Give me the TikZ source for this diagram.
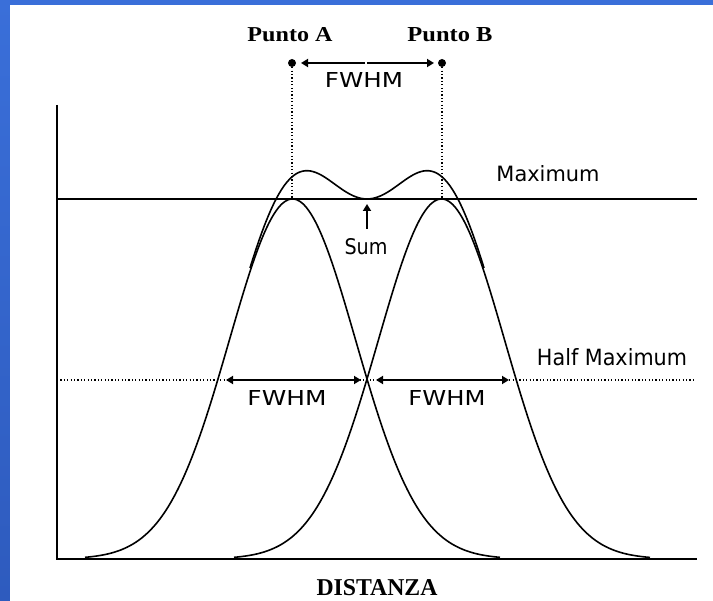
\documentclass[tikz,border=0pt]{standalone}
\usepackage{fontspec}
\setmainfont{Liberation Serif}
\newfontfamily\sansf{DejaVu Sans}
\usepackage{graphicx}
\usetikzlibrary{arrows.meta}
\definecolor{blueT}{HTML}{3A6FD9}
\definecolor{blueB}{HTML}{2E5BBE}
\newcommand{\fitbox}[3]{\resizebox{#1pt}{#2pt}{#3}}
\tikzset{
  axisline/.style={line width=2.2pt},
  curve/.style={line width=1.6pt},
  dotline/.style={line width=1.2pt, dash pattern=on 1.2pt off 2.2pt},
  dimarrow/.style={line width=2pt, -{Triangle[length=7pt,width=8pt]}},
  dimarrows/.style={line width=2pt, {Triangle[length=7pt,width=8pt]}-{Triangle[length=7pt,width=8pt]}},
  lbl/.style={inner sep=0pt, anchor=center},
  pt/.style={circle, fill=black, inner sep=0pt, minimum size=8pt}
}
\begin{document}
\begin{tikzpicture}[x=1pt,y=-1pt]
\useasboundingbox (0,0) rectangle (713,601);
\shade[top color=blueT, bottom color=blueB] (0,0) rectangle (713,601);
\fill[white] (10,5) rectangle (713,601);

% axes
\coordinate (ytop) at (57,105);
\coordinate (O) at (57,559);
\coordinate (xend) at (697,559);
\draw[axisline] (ytop) -- (O) -- (xend);

% maximum line
\coordinate (m0) at (57,199);
\coordinate (m1) at (697,199);
\draw[line width=2.2pt] (m0) -- (m1);

% half maximum dotted line
\coordinate (h0) at (57,380);
\coordinate (h1) at (695,380);
\draw[dotline] (h0) -- (h1);

% gaussians
\draw[curve] plot[domain=85:500, samples=140, smooth] (\x, {559-360*exp(-((\x-292.5)/63.27)^2/2)});
\draw[curve] plot[domain=234:650, samples=140, smooth] (\x, {559-360*exp(-((\x-441.5)/63.27)^2/2)});
% sum
\draw[curve] plot[domain=250:484, samples=90, smooth] (\x, {559-360*(exp(-((\x-292.5)/63.27)^2/2)+exp(-((\x-441.5)/63.27)^2/2))});

% points A and B
\node[pt] (pA) at (292,63) {};
\node[pt] (pB) at (442,63) {};
\coordinate (pkA) at (292,199);
\coordinate (pkB) at (442,199);
\draw[dotline] (pA) -- (pkA);
\draw[dotline] (pB) -- (pkB);
\node[lbl] (lA) at (290,35) {\fitbox{85}{14}{\bfseries Punto A}};
\node[lbl] (lB) at (450,35) {\fitbox{85}{14}{\bfseries Punto B}};

% top FWHM arrow
\coordinate (tmL) at (365,63);
\coordinate (tmR) at (367,63);
\coordinate (tL) at (301,63);
\coordinate (tR) at (434,63);
\draw[dimarrow] (tmL) -- (tL);
\draw[dimarrow] (tmR) -- (tR);
\node[lbl] (fT) at (364,80) {\fitbox{78}{15}{\sansf FWHM}};

% lower FWHM arrows
\coordinate (c1) at (220,380);
\coordinate (c2) at (367,380);
\coordinate (c3) at (515,380);
\draw[dimarrows, shorten <=6pt, shorten >=6pt] (c1) -- (c2);
\draw[dimarrows, shorten <=9pt, shorten >=6pt] (c2) -- (c3);
\node[lbl] (fL) at (287,398) {\fitbox{79}{15}{\sansf FWHM}};
\node[lbl] (fR) at (447,398) {\fitbox{77}{15}{\sansf FWHM}};

% sum arrow
\node[lbl] (sum) at (366,247) {\fitbox{43}{16}{\sansf Sum}};
\coordinate (sumtip) at (367,204);
\coordinate (sumtail) at (367,229);
\draw[line width=1.8pt, -{Triangle[length=7pt,width=8pt]}] (sumtail) -- (sumtip);

% right labels
\node[lbl] (lmax) at (548,174) {\fitbox{103}{16}{\sansf Maximum}};
\node[lbl] (lhalf) at (612,357) {\fitbox{150}{17}{\sansf Half Maximum}};

% x label
\node[lbl] (ldist) at (377,588) {\fitbox{121}{16}{\bfseries DISTANZA}};
\end{tikzpicture}
\end{document}
